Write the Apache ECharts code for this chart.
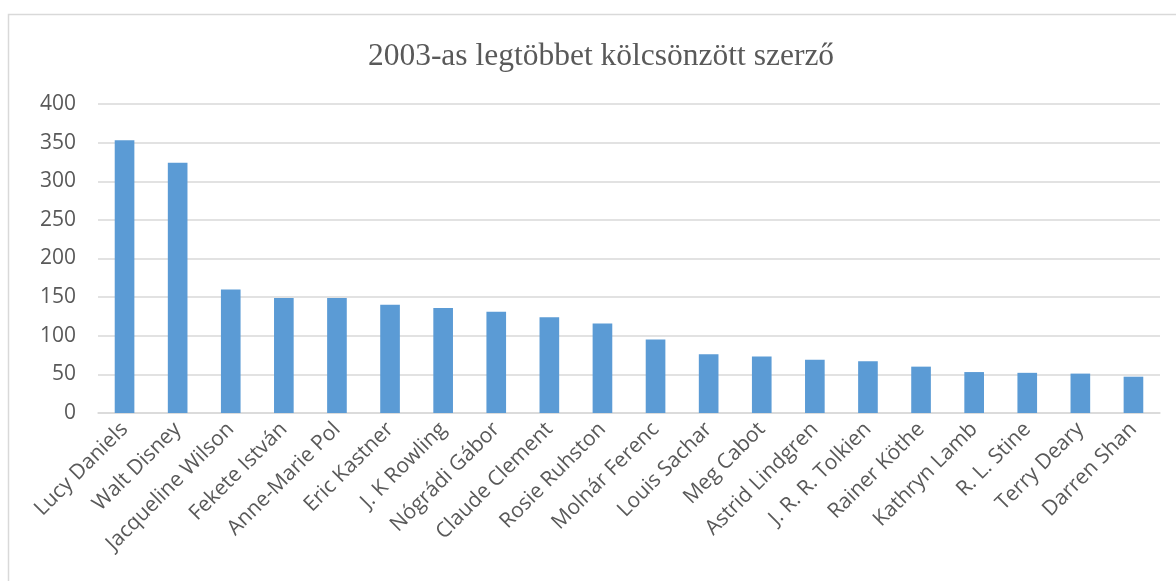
<!DOCTYPE html>
<html>
<head>
<meta charset="utf-8">
<script src="https://cdn.jsdelivr.net/npm/echarts@6/dist/echarts.min.js"></script>
<style>
html, body { margin: 0; padding: 0; background: #fff; }
#chart { width: 1176px; height: 581px; }
</style>
</head>
<body>
<div id="chart"></div>
<script>
// szerzők és kölcsönzések száma
var authors = ['Lucy Daniels', 'Walt Disney', 'Jacqueline Wilson', 'Fekete István', 'Anne-Marie Pol',
	'Eric Kastner', 'J. K Rowling', 'Nógrádi Gábor', 'Claude Clement', 'Rosie Ruhston',
	'Molnár Ferenc', 'Louis Sachar', 'Meg Cabot', 'Astrid Lindgren', 'J. R. R. Tolkien',
	'Rainer Köthe', 'Kathryn Lamb', 'R. L. Stine', 'Terry Deary', 'Darren Shan'];
var loans = [353, 324, 160, 149, 149, 140, 136, 131, 124, 116, 95, 76, 73, 69, 67, 60, 53, 52, 51, 47];
var yTicks = [0, 50, 100, 150, 200, 250, 300, 350, 400];

var textColor = '#595959';
var lineColor = '#d9d9d9';

var myChart = echarts.init(document.getElementById('chart'));
myChart.setOption({
	animation: false,
	title: {
		text: '2003-as legtöbbet kölcsönzött szerző',
		left: 596,
		textAlign: 'center',
		top: 36,
		textStyle: {
			fontFamily: 'Liberation Serif',
			fontWeight: 'normal',
			fontSize: 31.5,
			color: textColor
		}
	},
	// keret
	graphic: [{
		type: 'rect',
		shape: { x: 8.5, y: 14.5, width: 1300, height: 700 },
		style: { fill: 'none', stroke: lineColor, lineWidth: 1.5 },
		silent: true
	}],
	grid: {
		left: 98,
		right: 16,
		top: 104,
		bottom: 168
	},
	xAxis: {
		type: 'category',
		data: authors,
		axisLine: { lineStyle: { color: lineColor, width: 1.5 } },
		axisTick: { show: false },
		axisLabel: {
			interval: 0,
			rotate: 45,
			margin: 13,
			color: textColor,
			fontFamily: 'Open Sans',
			fontSize: 21
		}
	},
	yAxis: {
		type: 'value',
		min: yTicks[0],
		max: yTicks[yTicks.length - 1],
		interval: 50,
		axisLine: { show: false },
		axisTick: { show: false },
		splitLine: { lineStyle: { color: lineColor, width: 1.5 } },
		axisLabel: {
			margin: 22,
			color: textColor,
			fontFamily: 'Open Sans',
			fontSize: 21
		}
	},
	series: [{
		type: 'bar',
		data: loans,
		barWidth: '37%',
		itemStyle: { color: '#5b9bd5' }
	}]
});
</script>
</body>
</html>
